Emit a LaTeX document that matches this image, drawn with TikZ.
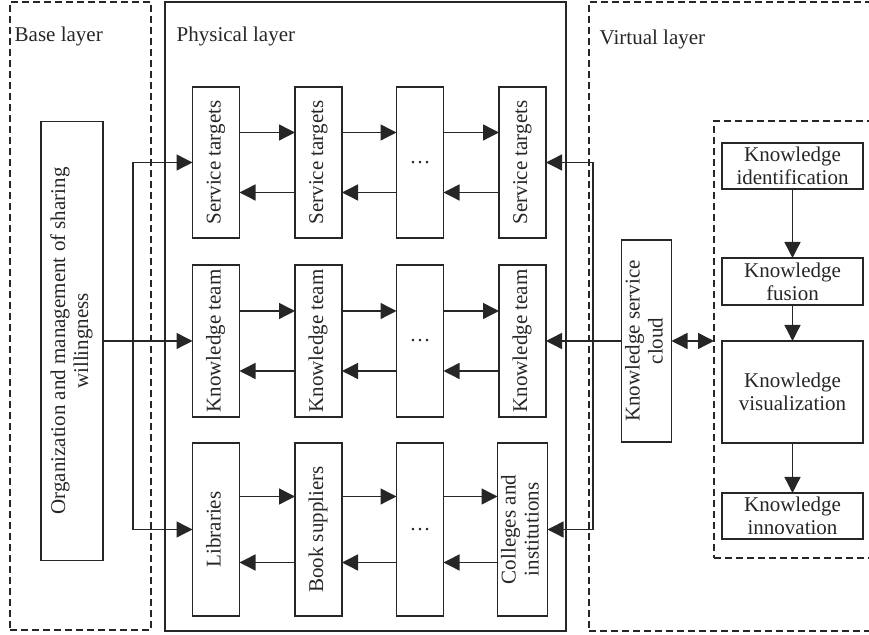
\documentclass[tikz,border=0pt]{standalone}
\usepackage{fontspec}
\setmainfont{Liberation Serif}
\usepackage{graphicx}
\usetikzlibrary{arrows.meta, positioning, calc}

\newcommand{\rotlabel}[1]{\rotatebox{90}{\begin{tabular}{@{}c@{}}#1\end{tabular}}}

\begin{document}
\begin{tikzpicture}[
    x=0.5pt, y=-0.5pt,
    every node/.style = {
        font=\fontsize{10.5}{11.5}\selectfont,
    },
    box/.style = {
        draw,
        rectangle,
        inner sep=1pt,
        outer sep=0pt,
        align=center,
    },
    cell/.style = {
        box,
        minimum width=23.5pt,
    },
    stage/.style = {
        box,
        minimum width=70.5pt,
    },
    layer/.style = {
        draw,
        rectangle,
        outer sep=0pt,
    },
    hidden/.style = {
        layer,
        dash pattern=on 3.5pt off 2pt,
    },
    title/.style = {
        anchor=base west,
        inner sep=0pt,
    },
    has/.style = {
        -{Triangle[length=8pt, width=8pt]},
    },
    both/.style = {
        {Triangle[length=8pt, width=8pt]}-{Triangle[length=8pt, width=8pt]},
    },
    color=black!85,
    line width=0.7pt,
]

\newcommand{\twoway}[3]{
    \draw[has] ([yshift=#3]#1.east) -- ([yshift=#3]#2.west);
    \draw[has] ([yshift=-#3]#2.west) -- ([yshift=-#3]#1.east);
}

\useasboundingbox (0,0) rectangle (869,635);

\node[hidden, minimum width=70.5pt, minimum height=314pt] (Base) at (80.5,316) {};
\node[layer, minimum width=200.5pt, minimum height=314.5pt] (Physical) at (365.5,316.5) {};
\node[hidden, minimum width=155.5pt, minimum height=314.5pt] (Virtual) at (744.5,316.5) {};
\node[hidden, minimum width=93pt, minimum height=218.5pt] (Process) at (807,339.5) {};

\node[title] (Base Title) at (14,42) {Base layer};
\node[title] (Physical Title) at (176,42) {Physical layer};
\node[title] (Virtual Title) at (599,45) {Virtual layer};

\node[box, minimum width=31pt, minimum height=219.5pt] (Org) at (72,341)
    {\rotlabel{Organization and management of sharing\\willingness}};

\node[cell, minimum height=75.5pt] (Target1) at (216,162.5) {\rotlabel{Service targets}};
\node[cell, minimum height=75.5pt] (Target2) at (318.5,162.5) {\rotlabel{Service targets}};
\node[cell, minimum height=75.5pt] (Target Dots) at (420,162.5) {\dots};
\node[cell, minimum height=75.5pt] (Target3) at (522.5,162.5) {\rotlabel{Service targets}};

\node[cell, minimum height=76pt] (Team1) at (216,341) {\rotlabel{Knowledge team}};
\node[cell, minimum height=76pt] (Team2) at (318.5,341) {\rotlabel{Knowledge team}};
\node[cell, minimum height=76pt] (Team Dots) at (420,341) {\dots};
\node[cell, minimum height=76pt] (Team3) at (522.5,341) {\rotlabel{Knowledge team}};

\node[cell, minimum height=86.5pt] (Library) at (216,529.5) {\rotlabel{Libraries}};
\node[cell, minimum height=86.5pt] (Supplier) at (318.5,529.5) {\rotlabel{Book suppliers}};
\node[cell, minimum height=86.5pt] (Source Dots) at (420,529.5) {\dots};
\node[cell, minimum height=86.5pt] (College) at (522.5,529.5) {\rotlabel{Colleges and\\institutions}};

\twoway{Target1}{Target2}{15pt}
\twoway{Target2}{Target Dots}{15pt}
\twoway{Target Dots}{Target3}{15pt}
\twoway{Team1}{Team2}{15pt}
\twoway{Team2}{Team Dots}{15pt}
\twoway{Team Dots}{Team3}{15pt}
\twoway{Library}{Supplier}{16.5pt}
\twoway{Supplier}{Source Dots}{16.5pt}
\twoway{Source Dots}{College}{16.5pt}

\coordinate (Left Bus) at (133,341);
\draw[has] (Org.east) -- (Team1.west);
\draw[has] (Left Bus) |- (Target1.west);
\draw[has] (Left Bus) |- (Library.west);

\node[cell, minimum height=101pt] (Cloud) at (646.5,341) {\rotlabel{Knowledge service\\cloud}};

\coordinate (Right Bus) at (593,341);
\draw[has] (Cloud.west) -- (Team3.east);
\draw[has] (Right Bus) |- (Target3.east);
\draw[has] (Right Bus) |- (College.east);
\draw[both] (Cloud.east) -- (Cloud.east -| Process.west);

\node[stage, minimum height=23pt] (Identify) at (792.5,166) {Knowledge\\identification};
\node[stage, minimum height=23.5pt] (Fuse) at (792.5,281.5) {Knowledge\\fusion};
\node[stage, minimum height=51pt] (Visualize) at (792.5,392) {Knowledge\\visualization};
\node[stage, minimum height=23pt] (Innovate) at (792.5,516) {Knowledge\\innovation};

\draw[has] (Identify) -- (Fuse);
\draw[has] (Fuse) -- (Visualize);
\draw[has] (Visualize) -- (Innovate);

\end{tikzpicture}
\end{document}
